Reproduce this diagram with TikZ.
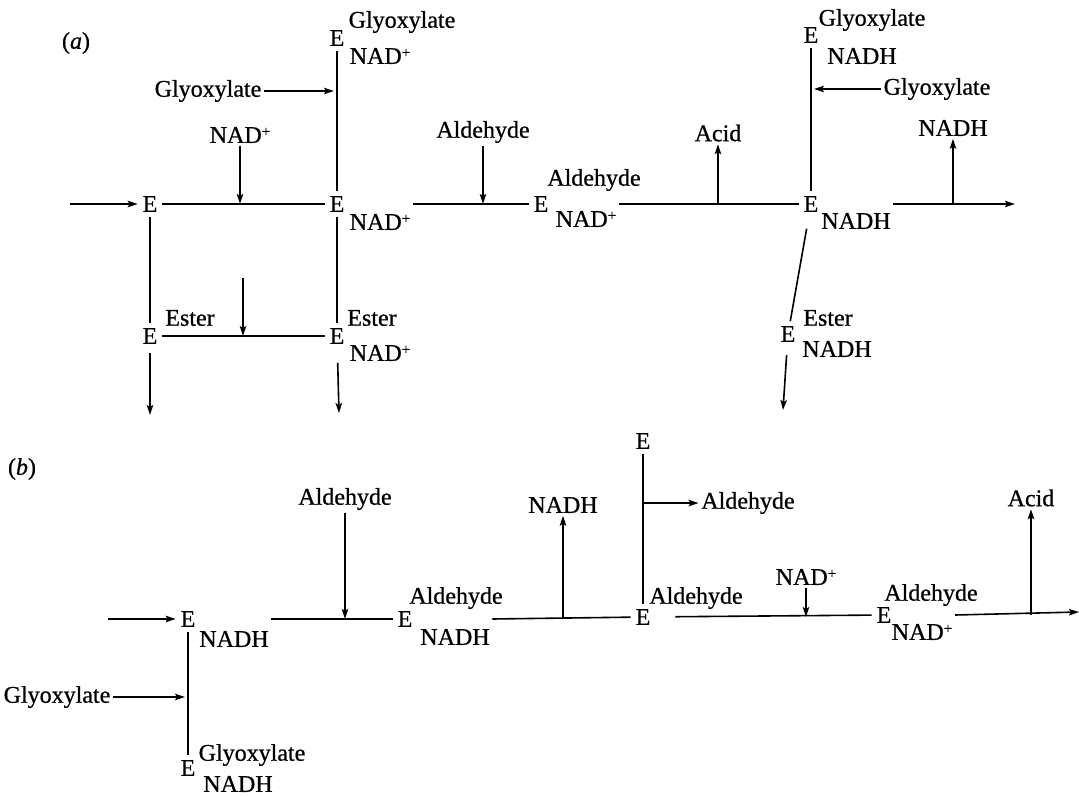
\documentclass[tikz,border=0pt]{standalone}
\usepackage{fontspec}
\setmainfont{Liberation Serif}[FakeBold=0.7]
\usetikzlibrary{arrows.meta,calc}
\newcommand\nadp{NAD\raisebox{6.5pt}{\fontsize{15}{15}\selectfont +}}
\begin{document}
\begin{tikzpicture}[x=1pt,y=-1pt,line width=1.6pt,
  every node/.style={font=\fontsize{24}{28}\selectfont},
  en/.style={inner sep=2pt,outer sep=3pt},
  lb/.style={inner sep=2pt},
  arr/.style={-{Stealth[length=10pt,width=6.5pt,inset=2pt]}}]
\useasboundingbox (0,0) rectangle (1079,797);

% ---------- panel (a) ----------
\node[lb] (labA) at (76,43) {(\textit{a})};
\coordinate (ain) at (70,204);
\node[en] (aE1) at (150,204) {E};
\node[en] (aE2) at (337,204) {E};
\node[lb] (aE2b) at (380,222) {\nadp};
\node[en] (aE7) at (337,38) {E};
\node[lb] (aE7p) at (402,22) {Glyoxylate};
\node[lb] (aE7b) at (380,56) {\nadp};
\node[lb] (aGlyIn) at (208,91) {Glyoxylate};
\node[lb] (aNADIn) at (240,135) {\nadp};
\node[en] (aE3) at (150,336) {E};
\node[lb] (aE3p) at (190,318) {Ester};
\node[en] (aE4) at (337,336) {E};
\node[lb] (aE4p) at (372,318) {Ester};
\node[lb] (aE4b) at (380,353) {\nadp};
\coordinate (aEsterIn) at (243,278);
\coordinate (aOut1) at (150,415);
\coordinate (aOut2) at (339,413);
\node[lb] (aAldIn) at (483,132) {Aldehyde};
\node[en] (aE5) at (541,204) {E};
\node[lb] (aE5p) at (594,180) {Aldehyde};
\node[lb] (aE5b) at (586,219) {\nadp};
\node[lb] (aAcid) at (718,133) {Acid};
\node[en] (aE6) at (811,204) {E};
\node[lb] (aE6b) at (856,221) {NADH};
\node[en] (aE8) at (811,35) {E};
\node[lb] (aE8p) at (872,20) {Glyoxylate};
\node[lb] (aE8b) at (862,56) {NADH};
\node[lb] (aGlyIn2) at (937,89) {Glyoxylate};
\node[lb] (aNADH) at (953,128) {NADH};
\coordinate (aOut3) at (1015,204);
\node[en] (aE9) at (788,334) {E};
\node[lb] (aE9p) at (828,318) {Ester};
\node[lb] (aE9b) at (837,349) {NADH};
\coordinate (aOut4) at (783,410);

\draw[arr] (ain) -- (aE1);
\draw (aE1) -- (aE2);
\draw[arr] (aNADIn) -- (aNADIn |- aE1);
\draw (aE7) -- (aE2);
\draw[arr,shorten >=3pt] (aGlyIn) -- (aGlyIn -| aE2);
\draw (aE1) -- (aE3);
\draw (aE2) -- (aE4);
\draw (aE3) -- (aE4);
\draw[arr] (aEsterIn) -- (aEsterIn |- aE3);
\draw[arr,shorten <=4pt] (aE3) -- (aOut1);
\draw[arr,shorten <=14pt] (aE4) -- (aOut2);
\draw (aE2b.east |- aE2) -- (aE5);
\draw[arr] (aAldIn) -- (aAldIn |- aE2);
\draw (aE5b.east |- aE5) -- (aE6);
\draw[arr] (aAcid.south |- aE5) -- (aAcid);
\draw (aE8) -- (aE6);
\draw[arr,shorten >=3pt] (aGlyIn2) -- (aGlyIn2 -| aE6);
\draw[arr] (aE6b.east |- aE6) -- (aOut3);
\draw[arr] (aNADH.south |- aE6) -- (aNADH);
\draw[shorten <=12pt] (aE6) -- (aE9);
\draw[arr,shorten <=8pt] (aE9) -- (aOut4);

% ---------- panel (b) ----------
\node[lb] (labB) at (22,469) {(\textit{b})};
\coordinate (bin) at (108,619);
\node[en] (bE1) at (188,619) {E};
\node[lb] (bE1b) at (234,639) {NADH};
\node[en] (bE2) at (188,768) {E};
\node[lb] (bE2b) at (238,784) {NADH};
\node[lb] (bE2p) at (252,755) {Glyoxylate};
\node[lb] (bGlyIn) at (57,697) {Glyoxylate};
\node[lb] (bAldIn) at (345,499) {Aldehyde};
\node[en] (bE3) at (405,619) {E};
\node[lb] (bE3p) at (456,598) {Aldehyde};
\node[lb] (bE3b) at (455,637) {NADH};
\node[lb] (bNADH) at (563,505) {NADH};
\node[en] (bE4) at (643,617) {E};
\node[lb] (bE4p) at (696,598) {Aldehyde};
\node[en] (bE5) at (643,441) {E};
\node[lb] (bAldOut) at (748,503) {Aldehyde};
\node[lb] (bNADIn) at (806,577) {\nadp};
\node[en] (bE6) at (884,615) {E};
\node[lb] (bE6p) at (931,595) {Aldehyde};
\node[lb] (bE6b) at (922,632) {\nadp};
\node[lb] (bAcid) at (1031,498) {Acid};
\coordinate (bOut) at (1079,612);

\draw[arr] (bin) -- (bE1);
\draw (bE1) -- (bE2);
\draw[arr,shorten >=3pt] (bGlyIn) -- (bGlyIn -| bE1);
\draw (bE1b.east |- bE1) -- (bE3);
\draw[arr] (bAldIn) -- (bAldIn |- bE1);
\draw (bE3b.east |- bE3) -- (bE4);
\draw[arr] (bNADH.south |- bE3) -- (bNADH);
\draw (bE5) -- (bE4);
\draw[arr] (bE5 |- bAldOut) -- (bAldOut);
\draw[shorten <=20pt] (bE4) -- (bE6);
\draw[arr] (bNADIn) -- (bNADIn |- bE4);
\draw[arr] (bE6b.east |- bE6) -- (bOut);
\draw[arr] (bAcid.south |- bE6) -- (bAcid);
\end{tikzpicture}
\end{document}
